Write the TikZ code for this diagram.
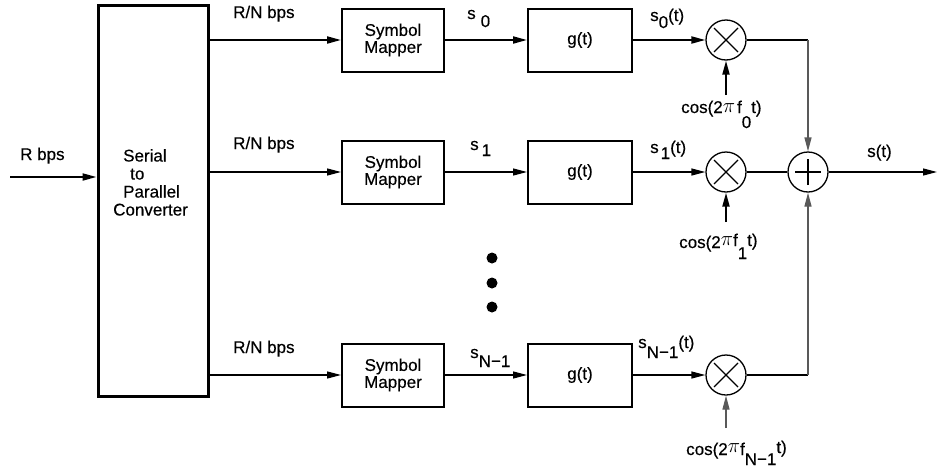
\documentclass[tikz,border=0pt]{standalone}
\usepackage{fontspec}
\setmainfont{Liberation Sans}
\newfontfamily\lblfont{Liberation Sans}[FakeBold=0.35]
\usetikzlibrary{arrows.meta}
\newcommand{\bigpi}{{\fontsize{22}{22}\selectfont$\pi$}}
\begin{document}
\begin{tikzpicture}[x=1pt,y=-1pt,
  tip/.style={-{Triangle[length=14pt,width=7pt]}},
  thk/.style={line width=2pt},
  thn/.style={line width=1.3pt},
  vline/.style={line width=1.3pt,draw=black!65},
  lbl/.style={inner sep=0pt,font=\lblfont\fontsize{17}{18}\selectfont},
  blk/.style={draw,line width=2pt,minimum height=63pt,inner sep=0pt,align=center,
    font=\lblfont\fontsize{17}{17}\selectfont},
  mapbox/.style={blk,minimum width=102pt},
  gbox/.style={blk,minimum width=104pt},
  mult/.style={draw,circle,line width=1.3pt,minimum size=40pt,inner sep=0pt},
]
\useasboundingbox (0,0) rectangle (937,469);

% serial to parallel converter
\node[draw,line width=3pt,minimum width=110pt,minimum height=391pt,inner sep=0pt] (sp) at (153,200.5) {};
\node[lbl,align=left,anchor=north west] (sptxt) at (113,149)
  {\hspace*{10pt}Serial\\\hspace*{17pt}to\\\hspace*{10pt}Parallel\\Converter};

% blocks
\node[mapbox] (sm1) at (393,40) {Symbol\\Mapper};
\node[mapbox] (sm2) at (393,172) {Symbol\\Mapper};
\node[mapbox] (sm3) at (393,375) {Symbol\\Mapper};
\node[gbox] (g1) at (580,40) {g(t)};
\node[gbox] (g2) at (580,172) {g(t)};
\node[gbox] (g3) at (580,375) {g(t)};
\node[mult] (m1) at (726,40) {};
\node[mult] (m2) at (726,172) {};
\node[mult] (m3) at (726,375) {};
\node[mult] (ad) at (808,172) {};

% symbols in circles
\foreach \m in {m1,m2,m3}{
  \draw[line width=1.2pt] ([shift={(-12pt,-12pt)}]\m.center) -- ([shift={(12pt,12pt)}]\m.center);
  \draw[line width=1.2pt] ([shift={(-12pt,12pt)}]\m.center) -- ([shift={(12pt,-12pt)}]\m.center);
}
\draw[line width=1.6pt] ([yshift=-13pt]ad.center) -- ([yshift=13pt]ad.center);
\draw[line width=1.6pt] ([xshift=-13pt]ad.center) -- ([xshift=13pt]ad.center);

% coordinates
\coordinate (in) at (10,177);
\coordinate (out) at (937,172);
\coordinate (c1) at (726,95);
\coordinate (c2) at (726,222);
\coordinate (c3) at (726,428);

% input
\draw[thk,tip] (in) -- (sp.west |- in);

% row 1
\draw[thk,tip] (sp.east |- sm1) -- (sm1.west);
\draw[thk,tip] (sm1.east) -- (g1.west);
\draw[thk,tip] (g1.east) -- (m1.west);
\draw[thk] (m1.east) -- (ad |- m1);
\draw[vline,tip] (ad |- m1) -- (ad.north);
\draw[thk,tip] (c1) -- (m1.south);

% row 2
\draw[thn,tip] (sp.east |- sm2) -- (sm2.west);
\draw[thn,tip] (sm2.east) -- (g2.west);
\draw[thn,tip] (g2.east) -- (m2.west);
\draw[thn] (m2.east) -- (ad.west);
\draw[thk,tip] (c2) -- (m2.south);

% row 3
\draw[thn,tip] (sp.east |- sm3) -- (sm3.west);
\draw[thn,tip] (sm3.east) -- (g3.west);
\draw[thn,tip] (g3.east) -- (m3.west);
\draw[thn] (m3.east) -- (ad |- m3);
\draw[vline,tip] (ad |- m3) -- (ad.south);
\draw[vline,tip] (c3) -- (m3.south);

% output
\draw[thn,tip] (ad.east) -- (out);

% dots
\fill (492,258) circle (5.5);
\fill (492,283) circle (5.5);
\fill (492,307) circle (5.5);

% labels
\node[lbl,anchor=base west] (lr) at (20,160) {R bps};
\node[lbl,anchor=base west] (lrn1) at (233,18) {R/N bps};
\node[lbl,anchor=base west] (lrn2) at (233,149) {R/N bps};
\node[lbl,anchor=base west] (lrn3) at (233,353) {R/N bps};

\node[lbl,anchor=base west] (ls0) at (467,19) {s\hspace{5pt}\raisebox{-8pt}{0}};
\node[lbl,anchor=base west] (ls1) at (470,150) {s\hspace{3pt}\raisebox{-6pt}{1}};
\node[lbl,anchor=base west] (ls2) at (470,358) {s\raisebox{-9pt}{N−1}};

\node[lbl,anchor=base west] (lt0) at (650,21) {s\raisebox{-7pt}{0}(t)};
\node[lbl,anchor=base west] (lt1) at (650,153) {s\hspace{2pt}\raisebox{-6pt}{1}(t)};
\node[lbl,anchor=base west] (lt2) at (638,348) {s\raisebox{-10pt}{N−1}(t)};

\node[lbl,anchor=base west] (lst) at (867,157) {s(t)};

\node[lbl,anchor=base west] (lc0) at (681,113)
  {cos(2\raisebox{1pt}{\bigpi}\hspace{2pt}f\raisebox{-15pt}{0}t)};
\node[lbl,anchor=base west] (lc1) at (679,248)
  {cos(2\raisebox{3pt}{\bigpi}\raisebox{2pt}{f}\raisebox{-11pt}{1}\raisebox{2pt}{t)}};
\node[lbl,anchor=base west] (lc2) at (686,455)
  {cos(2\raisebox{3pt}{\bigpi}f\raisebox{-10pt}{N−1}\raisebox{2pt}{t)}};
\end{tikzpicture}
\end{document}
